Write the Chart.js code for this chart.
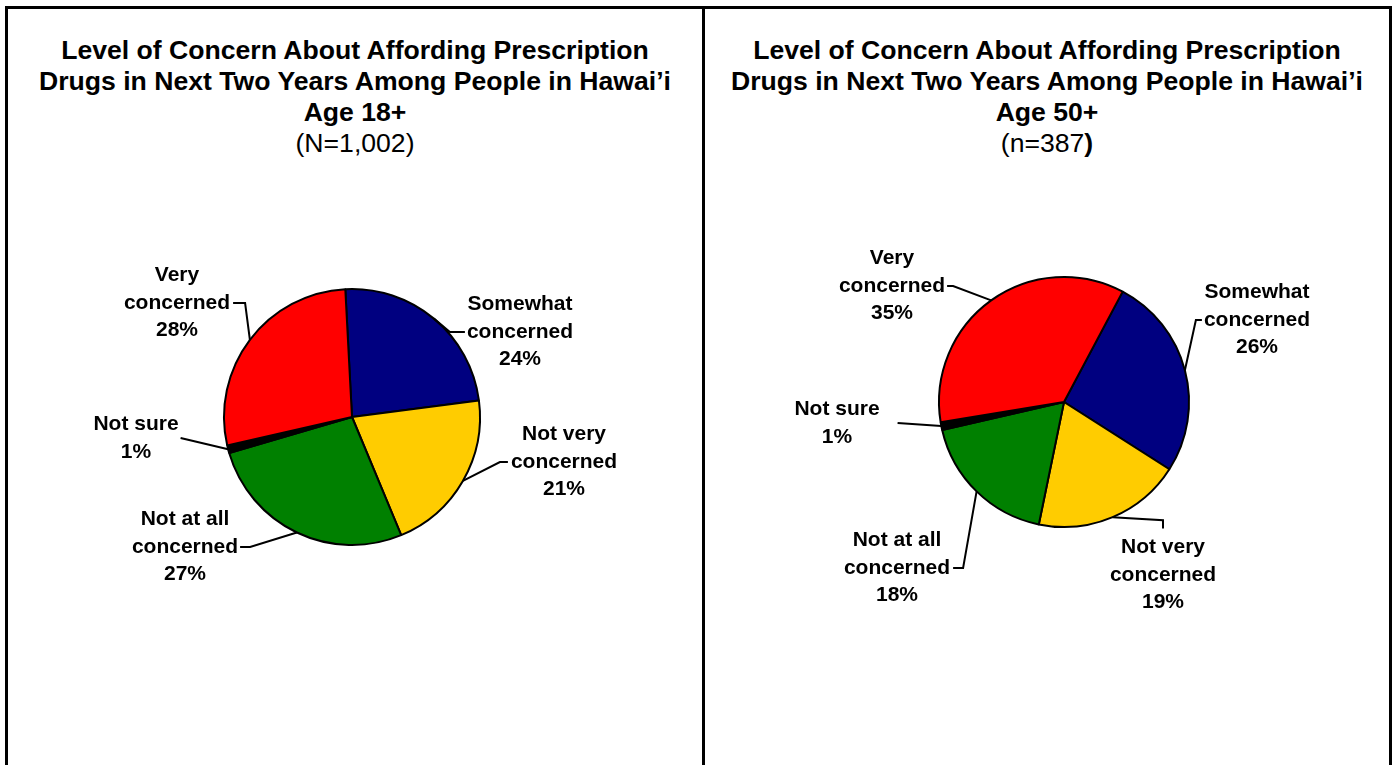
<!DOCTYPE html>
<html>
<head>
<meta charset="utf-8">
<title>Concern About Affording Prescription Drugs</title>
<script src="https://cdn.jsdelivr.net/npm/chart.js@4"></script>
<style>
  body { margin: 0; background: #fff; overflow: hidden; font-family: "Liberation Sans", Arial, sans-serif; }
  .panel { position: absolute; top: 6px; height: 800px; border: 3px solid #000; border-bottom: none; }
  #panelAll { left: 5px; width: 694px; }
  #panel50 { left: 705px; width: 684px; border-left: none; }
  .panel canvas { position: absolute; left: 0; top: 0; }
  .title { position: absolute; left: 0; top: 26px; width: 100%; text-align: center;
           font-size: 26.6px; line-height: 31px; font-weight: bold; white-space: nowrap; color: #000; }
  .title .n { font-weight: normal; }
</style>
</head>
<body>

<div class="panel" id="panelAll">
  <div class="title">Level of Concern About Affording Prescription<br>Drugs in Next Two Years Among People in Hawai’i<br>Age 18+<br><span class="n">(N=1,002)</span></div>
  <canvas id="chartAll" width="694" height="756"></canvas>
</div>

<div class="panel" id="panel50">
  <div class="title">Level of Concern About Affording Prescription<br>Drugs in Next Two Years Among People in Hawai’i<br>Age 50+<br><span class="n">(n=387</span>)</div>
  <canvas id="chart50" width="684" height="756"></canvas>
</div>

<script>
// categories in clockwise order, starting from the top of the pie
const categories = [
    ['Somewhat', 'concerned'],
    ['Not very', 'concerned'],
    ['Not at all', 'concerned'],
    ['Not sure'],
    ['Very', 'concerned']
];
const sliceColors = ['#000080', '#FFCC00', '#008000', '#000000', '#FF0000'];

// percentages
const valuesAll = [24, 21, 27, 1, 28];
const values50 = [26, 19, 18, 1, 35];

// label placement, relative to the pie centre (dx, dy) plus how the leader line attaches
const labelPosAll = [
    { dx: 168, dy: -85, side: 'left', gap: 2, stub: 15 },
    { dx: 212, dy: 45, side: 'left', gap: 3, stub: 8 },
    { dx: -167, dy: 130, side: 'right', gap: 2, stub: 10 },
    { dx: -216, dy: 21, side: 'right', gap: 2, stub: 0 },
    { dx: -175, dy: -114, side: 'right', gap: 3, stub: 12 }
];
const labelPos50 = [
    { dx: 193, dy: -82, side: 'left', gap: 2, stub: 6 },
    { dx: 99, dy: 173, side: 'top', gap: 19, stub: 3 },
    { dx: -167, dy: 166, side: 'right', gap: 3, stub: 10 },
    { dx: -227, dy: 21, side: 'right', gap: 18, stub: 0 },
    { dx: -172, dy: -116, side: 'right', gap: 2, stub: 6 }
];

const LABEL_FONT = 'bold 21px "Liberation Sans", Arial, sans-serif';
const LINE_H = 27.5;

// draws the category / percent labels with their leader lines
const leaderLabels = {
    id: 'leaderLabels',
    afterDatasetsDraw(chart, args, opts) {
        const ctx = chart.ctx;
        const meta = chart.getDatasetMeta(0);
        const data = chart.data.datasets[0].data;
        ctx.save();
        ctx.font = LABEL_FONT;
        ctx.fillStyle = '#000';
        ctx.strokeStyle = '#000';
        ctx.lineWidth = 2;
        ctx.textAlign = 'center';
        ctx.textBaseline = 'middle';

        meta.data.forEach((arc, i) => {
            const p = arc.getProps(['x', 'y', 'startAngle', 'endAngle', 'outerRadius'], true);
            const mid = (p.startAngle + p.endAngle) / 2;
            const px = p.x + Math.cos(mid) * p.outerRadius;
            const py = p.y + Math.sin(mid) * p.outerRadius;

            const pos = opts.positions[i];
            const lines = [...chart.data.labels[i], data[i] + '%'];
            const cx = p.x + pos.dx;
            const cy = p.y + pos.dy;
            const top = cy - (lines.length - 1) / 2 * LINE_H;
            lines.forEach((t, k) => ctx.fillText(t, cx, top + k * LINE_H));

            // leader line: arc edge -> bend -> label
            const ref = lines.length > 2 ? lines[1] : lines[0];
            const ly = lines.length > 2 ? top + LINE_H : cy;
            const hw = ctx.measureText(ref).width / 2;
            let ax, ay, bx, by;
            if (pos.side === 'right') {
                ax = cx + hw + pos.gap; ay = ly; bx = ax + pos.stub; by = ay;
            } else if (pos.side === 'left') {
                ax = cx - hw - pos.gap; ay = ly; bx = ax - pos.stub; by = ay;
            } else {
                ax = cx; ay = top - pos.gap; bx = cx; by = py + pos.stub;
            }
            ctx.beginPath();
            ctx.moveTo(px, py);
            ctx.lineTo(bx, by);
            ctx.lineTo(ax, ay);
            ctx.stroke();
        });
        ctx.restore();
    }
};

function makePie(canvasId, values, rotation, padding, positions) {
    return new Chart(document.getElementById(canvasId), {
        type: 'pie',
        data: {
            labels: categories,
            datasets: [{
                data: values,
                backgroundColor: sliceColors,
                borderColor: '#000',
                borderWidth: 2
            }]
        },
        options: {
            responsive: false,
            animation: false,
            rotation: rotation,
            layout: { padding: padding },
            plugins: {
                legend: { display: false },
                tooltip: { enabled: false },
                leaderLabels: { positions: positions }
            }
        },
        plugins: [leaderLabels]
    });
}

makePie('chartAll', valuesAll, -3, { left: 215, right: 221, top: 279, bottom: 219 }, labelPosAll);
makePie('chart50', values50, 28, { left: 233, right: 199, top: 267, bottom: 237 }, labelPos50);
</script>
</body>
</html>
